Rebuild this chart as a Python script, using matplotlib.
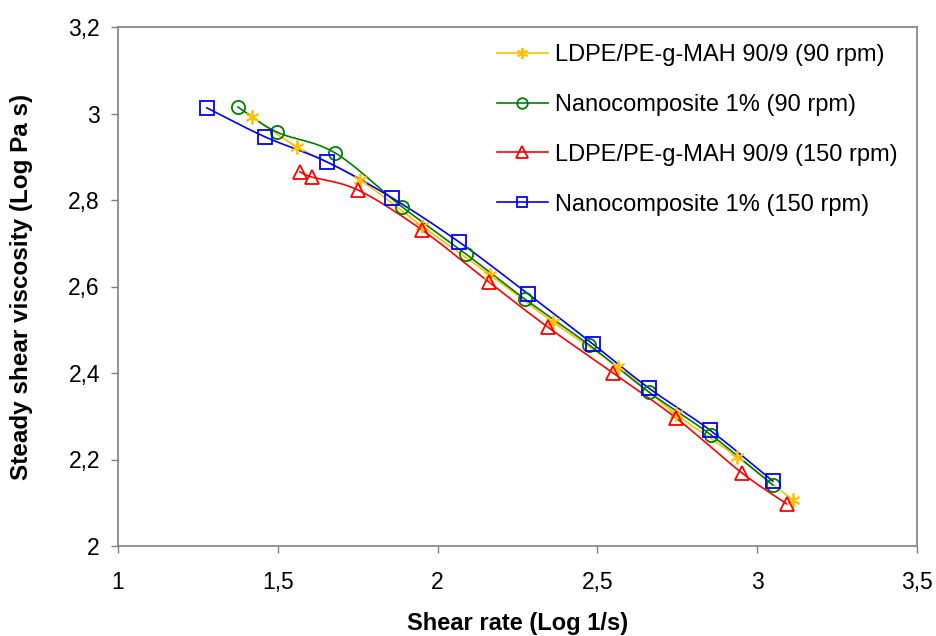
import numpy as np
import matplotlib
matplotlib.use('Agg')
import matplotlib.pyplot as plt
from matplotlib.ticker import FuncFormatter, MultipleLocator

plt.rcParams['font.family'] = ['Liberation Sans', 'DejaVu Sans']

# log shear rate / log viscosity for the four samples
ldpe_90_x = [1.419, 1.560, 1.757, 1.951, 2.164, 2.361, 2.564, 2.746, 2.937, 3.112]
ldpe_90_y = [2.992, 2.923, 2.846, 2.740, 2.627, 2.518, 2.414, 2.305, 2.206, 2.106]

nano_90_x = [1.375, 1.497, 1.679, 1.889, 2.089, 2.273, 2.474, 2.661, 2.855, 3.049]
nano_90_y = [3.015, 2.957, 2.909, 2.784, 2.675, 2.571, 2.465, 2.356, 2.257, 2.141]

ldpe_150_x = [1.569, 1.607, 1.751, 1.951, 2.161, 2.345, 2.549, 2.746, 2.952, 3.093]
ldpe_150_y = [2.865, 2.853, 2.823, 2.731, 2.610, 2.506, 2.400, 2.296, 2.169, 2.097]

nano_150_x = [1.278, 1.460, 1.654, 1.857, 2.067, 2.283, 2.486, 2.661, 2.852, 3.049]
nano_150_y = [3.013, 2.946, 2.888, 2.805, 2.703, 2.583, 2.467, 2.365, 2.268, 2.150]

labels = ['LDPE/PE-g-MAH 90/9 (90 rpm)', 'Nanocomposite 1% (90 rpm)',
          'LDPE/PE-g-MAH 90/9 (150 rpm)', 'Nanocomposite 1% (150 rpm)']


def smooth(x, y, n=20):
    # catmull-rom curve through the points, like a spreadsheet "smoothed line"
    x = np.asarray(x, float)
    y = np.asarray(y, float)
    px = np.concatenate([[2 * x[0] - x[1]], x, [2 * x[-1] - x[-2]]])
    py = np.concatenate([[2 * y[0] - y[1]], y, [2 * y[-1] - y[-2]]])
    t = np.linspace(0, 1, n)[:, None]
    xs, ys = [], []
    for i in range(1, len(px) - 2):
        for p, out in ((px, xs), (py, ys)):
            p0, p1, p2, p3 = p[i - 1], p[i], p[i + 1], p[i + 2]
            seg = 0.5 * ((2 * p1) + (-p0 + p2) * t +
                         (2 * p0 - 5 * p1 + 4 * p2 - p3) * t ** 2 +
                         (-p0 + 3 * p1 - 3 * p2 + p3) * t ** 3)
            out.extend(seg.ravel())
    return xs, ys


fig = plt.figure(figsize=(9.36, 6.36), dpi=100)
ax = fig.add_axes([118 / 936, 1 - 546 / 636, 799 / 936, 519 / 636])

series = [
    (ldpe_90_x, ldpe_90_y, '#FFC000', (6, 2, 0), 10),
    (nano_90_x, nano_90_y, '#008000', 'o', 9.5),
    (ldpe_150_x, ldpe_150_y, '#FF0000', '^', 10.5),
    (nano_150_x, nano_150_y, '#0000FF', 's', 9.5),
]

for (x, y, c, m, ms), lab in zip(series, labels):
    sx, sy = smooth(x, y)
    ax.plot(sx, sy, color=c, lw=1.2, zorder=2)
    ax.plot(x, y, ls='none', marker=m, ms=ms, mfc='none', mec=c, mew=1.3, zorder=3)
    # legend proxy with line and marker together
    ax.plot([], [], color=c, lw=1.2, marker=m, ms=ms * 0.8, mfc='none',
            mec=c, mew=1.3, label=lab)

ax.set_xlim(1, 3.5)
ax.set_ylim(2, 3.2)
ax.xaxis.set_major_locator(MultipleLocator(0.5))
ax.yaxis.set_major_locator(MultipleLocator(0.2))


def comma(v, pos):
    s = ('%.1f' % v).rstrip('0').rstrip('.')
    return s.replace('.', ',')


ax.xaxis.set_major_formatter(FuncFormatter(comma))
ax.yaxis.set_major_formatter(FuncFormatter(comma))

for sp in ax.spines.values():
    sp.set_color('#808080')
    sp.set_linewidth(1.2)
ax.tick_params(axis='both', direction='out', length=5, width=1, color='#808080',
               labelsize=16.5, labelcolor='black')
ax.tick_params(axis='x', pad=13)
ax.tick_params(axis='y', pad=8)

ax.set_xlabel('Shear rate (Log 1/s)', fontsize=17, fontweight='bold')
ax.set_ylabel('Steady shear viscosity (Log Pa s)', fontsize=17.5, fontweight='bold')
ax.xaxis.set_label_coords(0.5, -0.127)
ax.yaxis.set_label_coords(-0.106, 0.5)

fig.legend(loc='upper left', bbox_to_anchor=(497 / 936, 1 - 44 / 636),
           frameon=False, fontsize=17, handlelength=2.15, handletextpad=0.3,
           labelspacing=1.18, borderpad=0, borderaxespad=0)

fig.savefig('out.png', dpi=100)
